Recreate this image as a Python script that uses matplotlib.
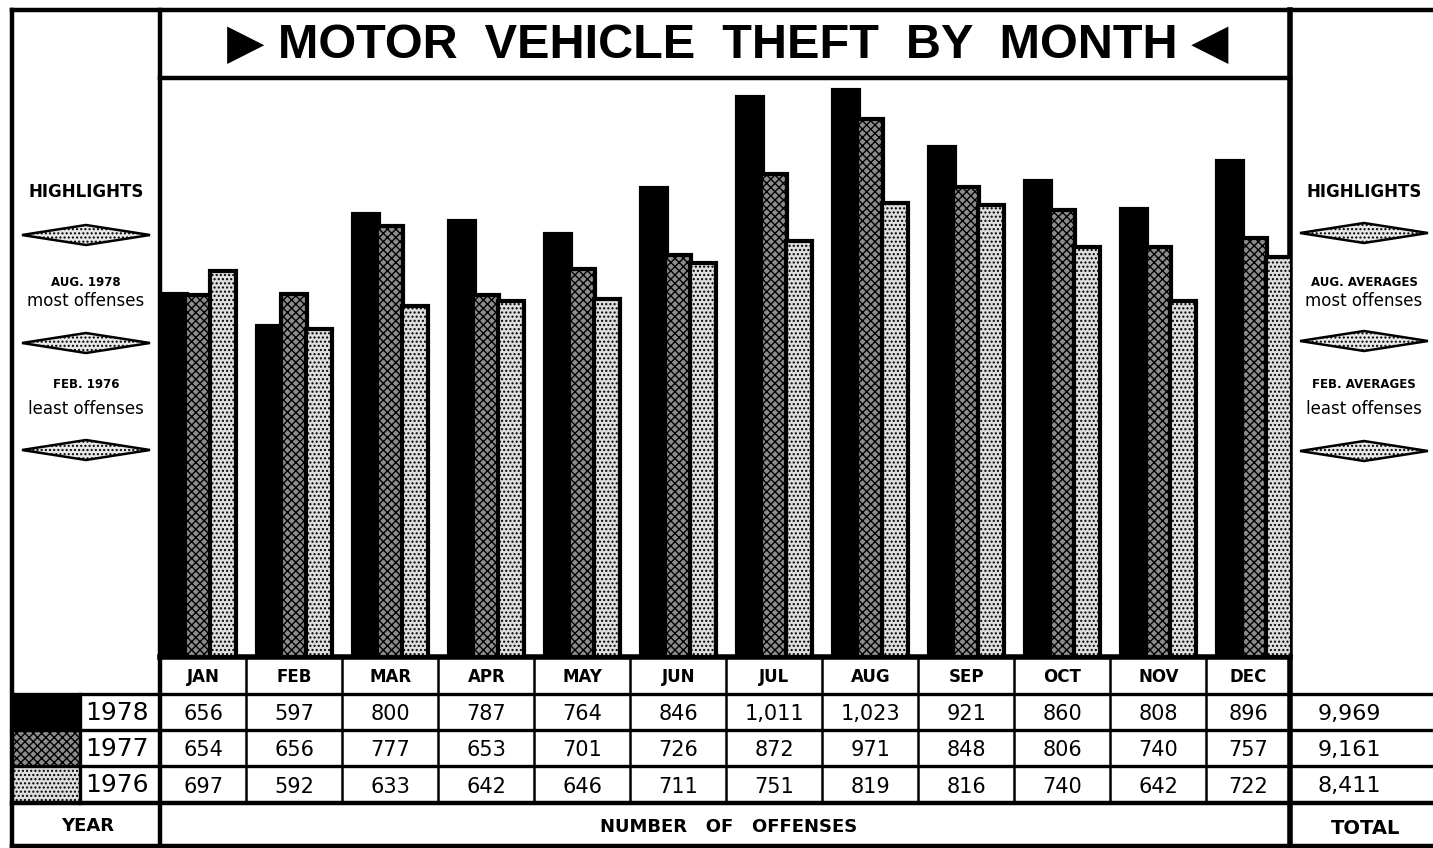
import matplotlib
matplotlib.use("Agg")
import matplotlib.pyplot as plt
from matplotlib.patches import Rectangle, Polygon

# ---------------- data ----------------
months = ["JAN", "FEB", "MAR", "APR", "MAY", "JUN", "JUL", "AUG", "SEP", "OCT", "NOV", "DEC"]
years = ["1978", "1977", "1976"]
v1978 = [656, 597, 800, 787, 764, 846, 1011, 1023, 921, 860, 808, 896]
v1977 = [654, 656, 777, 653, 701, 726, 872, 971, 848, 806, 740, 757]
v1976 = [697, 592, 633, 642, 646, 711, 751, 819, 816, 740, 642, 722]
totals = ["9,969", "9,161", "8,411"]
title = "\u25B6 MOTOR  VEHICLE  THEFT  BY  MONTH \u25C0"
left_notes = ["AUG. 1978", "most offenses", "FEB. 1976", "least offenses"]
right_notes = ["AUG. AVERAGES", "most offenses", "FEB. AVERAGES", "least offenses"]

W, H = 1433, 848
fig = plt.figure(figsize=(W / 100, H / 100), dpi=100)
fig.patch.set_facecolor("white")

FONT = ["DejaVu Sans"]
TFONT = ["Liberation Sans", "DejaVu Sans"]

styles = [
    dict(facecolor="black", hatch=None),
    dict(facecolor="#8c8c8c", hatch="xxxx"),
    dict(facecolor="#dedede", hatch="...."),
]
plt.rcParams["hatch.linewidth"] = 1.0


def fr(x0, y0, x1, y1):
    return [x0 / W, 1 - y1 / H, (x1 - x0) / W, (y1 - y0) / H]


# ---------------- background / frame axes ----------------
bg = fig.add_axes([0, 0, 1, 1])
bg.set_xlim(0, W)
bg.set_ylim(H, 0)
bg.axis("off")

thick = 3.2
thin = 1.8
bg.plot([12, W], [10, 10], color="black", lw=thick)
bg.plot([12, 12], [10, 846], color="black", lw=thick)
bg.plot([12, W], [846, 846], color="black", lw=thick)
bg.plot([160, 160], [10, 846], color="black", lw=thick)
bg.plot([1290, 1290], [10, 846], color="black", lw=4)
bg.plot([160, 1290], [78, 78], color="black", lw=thick)
bg.plot([160, 1290], [657, 657], color="black", lw=4)
for yy in [694, 730, 766]:
    bg.plot([12, W], [yy, yy], color="black", lw=thin + 0.6)
bg.plot([12, W], [803, 803], color="black", lw=thick)
bg.plot([80, 80], [694, 803], color="black", lw=thin + 0.6)

# title
bg.text(728, 45, title, ha="center", va="center", fontsize=35, fontweight="bold",
        family=TFONT, color="black")

# year swatches + labels + totals
row_y = [694, 730, 766, 803]
for i, (yr, st) in enumerate(zip(years, styles)):
    r = Rectangle((13, row_y[i] + 1), 66, row_y[i + 1] - row_y[i] - 2,
                  facecolor=st["facecolor"], hatch=st["hatch"], edgecolor="black", lw=0)
    bg.add_patch(r)
    bg.text(149, (row_y[i] + row_y[i + 1]) / 2 + 1, yr, ha="right", va="center",
            fontsize=18, family=FONT, color="black")
    bg.text(1318, (row_y[i] + row_y[i + 1]) / 2 + 2, totals[i], ha="left", va="center",
            fontsize=16, family=FONT, color="black")

bg.text(88, 826, "YEAR", ha="center", va="center", fontsize=13, fontweight="bold", family=FONT)
bg.text(729, 827, "NUMBER   OF   OFFENSES", ha="center", va="center", fontsize=13,
        fontweight="bold", family=FONT)
bg.text(1366, 828, "TOTAL", ha="center", va="center", fontsize=14, fontweight="bold", family=FONT)


def diamond(cx, cy, half_w, half_h):
    p = Polygon([(cx - half_w, cy), (cx, cy - half_h), (cx + half_w, cy), (cx, cy + half_h)],
                closed=True, facecolor="#e8e8e8", edgecolor="black", lw=1.8,
                hatch="....")
    bg.add_patch(p)


for cx, notes, dys in [(86, left_notes, [235, 343, 450]), (1364, right_notes, [233, 341, 451])]:
    bg.text(cx, 192, "HIGHLIGHTS", ha="center", va="center", fontsize=12,
            fontweight="bold", family=FONT)
    for dy in dys:
        diamond(cx, dy, 64, 10)
    bg.text(cx, 282, notes[0], ha="center", va="center", fontsize=8.5, fontweight="bold", family=FONT)
    bg.text(cx, 301, notes[1], ha="center", va="center", fontsize=12, family=FONT)
    bg.text(cx, 385, notes[2], ha="center", va="center", fontsize=8.5, fontweight="bold", family=FONT)
    bg.text(cx, 409, notes[3], ha="center", va="center", fontsize=12, family=FONT)

# ---------------- bar axes ----------------
ax = fig.add_axes(fr(160, 78, 1290, 657))
ax.set_xlim(-0.4, 11.37)
ax.set_ylim(0, 1045)
ax.axis("off")
x = list(range(len(months)))
bw = 0.27
offsets = [-0.255, 0.0, 0.255]
for vals, off, st in zip([v1978, v1977, v1976], offsets, styles):
    ax.bar([xi + off for xi in x], vals, width=bw, facecolor=st["facecolor"],
           hatch=st["hatch"], edgecolor="black", linewidth=3.0)

# ---------------- table axes ----------------
tax = fig.add_axes(fr(160, 657, 1290, 803))
tax.set_xlim(-0.4, 11.37)
tax.set_ylim(4, 0)
tax.axis("off")
for i in range(len(months) - 1):
    tax.plot([i + 0.5, i + 0.5], [0, 4], color="black", lw=thin)
col_centers = [(max(i - 0.5, -0.4) + min(i + 0.5, 11.37)) / 2 for i in x]
for i, m in enumerate(months):
    tax.text(col_centers[i], 0.55, m, ha="center", va="center", fontsize=12,
             fontweight="bold", family=FONT)
for r, vals in enumerate([v1978, v1977, v1976]):
    for i, v in enumerate(vals):
        tax.text(col_centers[i], r + 1.55, f"{v:,}", ha="center", va="center",
                 fontsize=15, family=FONT)

fig.savefig("out.png", dpi=100, facecolor="white")
